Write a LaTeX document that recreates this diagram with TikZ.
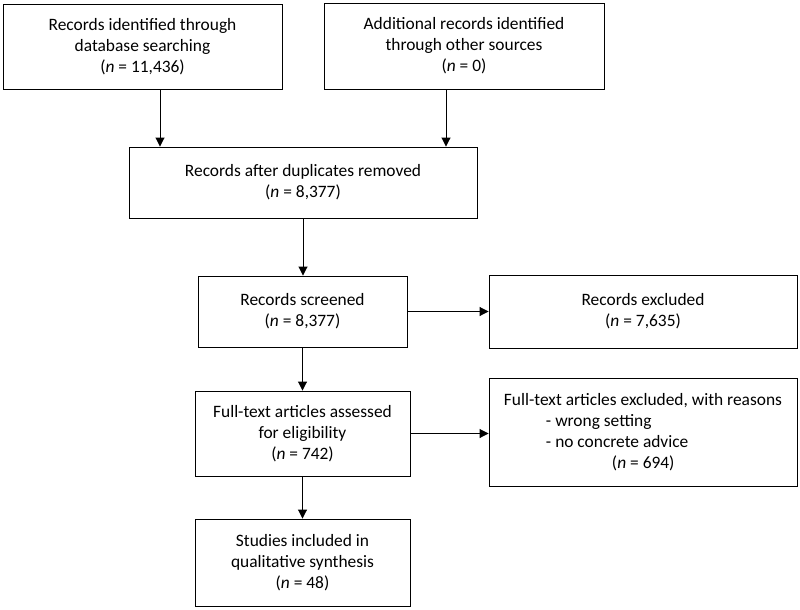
\documentclass[tikz,border=0pt]{standalone}
\usepackage{fontspec}
\setmainfont{Carlito}
\usepackage{tikz}
\usetikzlibrary{arrows.meta}
\tikzset{
  recbox/.style={draw,line width=0.9pt,align=center,inner sep=0pt,font=\fontsize{17.4}{21}\selectfont},
  flow/.style={->,line width=0.9pt,>={Triangle[length=9pt,width=9pt]}}
}

\begin{document}
\begin{tikzpicture}[x=1pt,y=-1pt]
\useasboundingbox (0,0) rectangle (800,610);
% Boîtes
\node[recbox,minimum width=279pt,minimum height=85pt] (ident) at (142.5,46.5) {Records identified through\\database searching\\(\emph{n} = 11,436)};
\node[recbox,minimum width=280pt,minimum height=86pt] (other) at (464,46) {Additional records identified\\through other sources\\(\emph{n} = 0)};
\node[recbox,minimum width=348pt,minimum height=71pt] (dupl) at (303,182.5) {Records after duplicates removed\\(\emph{n} = 8,377)};
\node[recbox,minimum width=209pt,minimum height=71pt] (screen) at (302.5,311.5) {Records screened\\(\emph{n} = 8,377)};
\node[recbox,minimum width=308pt,minimum height=73pt] (excl) at (643,311.5) {Records excluded\\(\emph{n} = 7,635)};
\node[recbox,minimum width=215pt,minimum height=85pt] (full) at (302.5,433.5) {Full-text articles assessed\\for eligibility\\(\emph{n} = 742)};
\node[recbox,align=left,minimum width=308pt,minimum height=108pt] (fullexcl) at (643,432) {Full-text articles excluded, with reasons\\
\hspace*{42pt}- wrong setting\\
\hspace*{42pt}- no concrete advice\\
\hspace*{108pt}(\emph{n} = 694)};
\node[recbox,minimum width=215pt,minimum height=87pt] (incl) at (302.5,562.5) {Studies included in\\qualitative synthesis\\(\emph{n} = 48)};
% Flèches
\draw[flow] ([xshift=17.5pt]ident.south) -- ([xshift=17.5pt]ident.south |- dupl.north);
\draw[flow] ([xshift=-18pt]other.south) -- ([xshift=-18pt]other.south |- dupl.north);
\draw[flow] (dupl.south) -- (dupl.south |- screen.north);
\draw[flow] (screen.east) -- (screen.east -| excl.west);
\draw[flow] (screen.south) -- (screen.south |- full.north);
\draw[flow] (full.east) -- (full.east -| fullexcl.west);
\draw[flow] (full.south) -- (full.south |- incl.north);
\end{tikzpicture}
\end{document}
